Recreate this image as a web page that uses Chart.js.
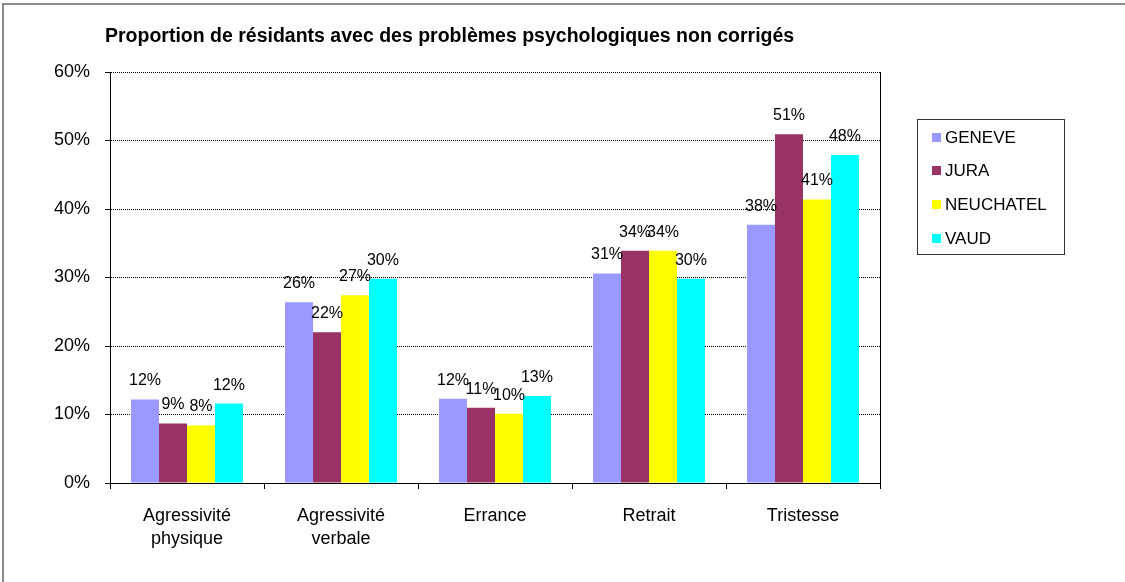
<!DOCTYPE html>
<html>
<head>
<meta charset="utf-8">
<script src="https://cdn.jsdelivr.net/npm/chart.js@4/dist/chart.umd.min.js"></script>
<style>
  html, body { margin: 0; padding: 0; background: #fff; }
  #wrap { position: relative; width: 1125px; height: 582px; }
</style>
</head>
<body>
<div id="wrap"><canvas id="c" width="1125" height="582"></canvas></div>
<script>
const titleText = 'Proportion de résidants avec des problèmes psychologiques non corrigés';
const categories = [['Agressivité', 'physique'], ['Agressivité', 'verbale'], 'Errance', 'Retrait', 'Tristesse'];
const seriesNames = ['GENEVE', 'JURA', 'NEUCHATEL', 'VAUD'];
const seriesColors = ['#9999FF', '#993366', '#FFFF00', '#00FFFF'];
const geneve = [12.2, 26.4, 12.3, 30.6, 37.7];
const jura = [8.7, 22.0, 11.0, 33.9, 50.9];
const neuchatel = [8.4, 27.4, 10.1, 33.9, 41.4];
const vaud = [11.6, 29.8, 12.7, 29.8, 47.9];
const yTicks = [0, 10, 20, 30, 40, 50, 60];

const seriesValues = [geneve, jura, neuchatel, vaud];
const FONT = '"Liberation Sans", Arial, sans-serif';

const extras = {
  id: 'extras',
  beforeDraw(chart) {
    const ctx = chart.ctx;
    ctx.save();
    ctx.fillStyle = '#ffffff';
    ctx.fillRect(0, 0, chart.width, chart.height);
    // outer frame (left and top visible)
    ctx.fillStyle = '#8c8c8c';
    ctx.fillRect(2, 3, chart.width, 2);
    ctx.fillRect(2, 3, 2, chart.height);
    ctx.restore();
  },
  afterDraw(chart) {
    const ctx = chart.ctx;
    const area = chart.chartArea;
    ctx.save();
    // right border of plot area
    ctx.strokeStyle = '#000';
    ctx.lineWidth = 1;
    ctx.beginPath();
    ctx.moveTo(Math.round(area.right) + 0.5, area.top);
    ctx.lineTo(Math.round(area.right) + 0.5, area.bottom);
    ctx.stroke();
    // title
    ctx.fillStyle = '#000';
    ctx.font = 'bold 19.5px ' + FONT;
    ctx.textAlign = 'left';
    ctx.textBaseline = 'alphabetic';
    ctx.fillText(titleText, 105, 42);
    // data labels
    ctx.font = '16px ' + FONT;
    ctx.textAlign = 'center';
    chart.data.datasets.forEach((ds, i) => {
      const meta = chart.getDatasetMeta(i);
      meta.data.forEach((el, j) => {
        ctx.fillText(Math.round(ds.data[j]) + '%', el.x, el.y - 14);
      });
    });
    // legend
    const lx = 917, ly = 119, lw = 147, lh = 135;
    ctx.strokeStyle = '#333';
    ctx.strokeRect(lx + 0.5, ly + 0.5, lw, lh);
    ctx.font = '17px ' + FONT;
    ctx.textAlign = 'left';
    ctx.textBaseline = 'middle';
    chart.data.datasets.forEach((ds, i) => {
      const cy = 137 + i * 33.7;
      ctx.fillStyle = ds.backgroundColor;
      ctx.fillRect(932, Math.round(cy - 4.5), 9, 9);
      ctx.fillStyle = '#000';
      ctx.fillText(ds.label, 945, cy + 1);
    });
    ctx.restore();
  }
};

new Chart(document.getElementById('c'), {
  type: 'bar',
  data: {
    labels: categories,
    datasets: seriesNames.map((name, i) => ({
      label: name,
      data: seriesValues[i],
      backgroundColor: seriesColors[i],
      borderWidth: 0,
      categoryPercentage: 0.727,
      barPercentage: 1.0
    }))
  },
  options: {
    responsive: false,
    animation: false,
    layout: { padding: { left: 50, top: 72, right: 245, bottom: 0 } },
    plugins: {
      legend: { display: false },
      title: { display: false },
      tooltip: { enabled: false }
    },
    scales: {
      x: {
        afterFit(s) { s.height = 99; },
        grid: {
          offset: true,
          drawOnChartArea: false,
          drawTicks: true,
          tickLength: 6,
          tickColor: '#000',
          tickWidth: 1
        },
        border: { display: true, color: '#000', width: 1 },
        ticks: {
          color: '#000',
          padding: 16,
          font: { family: FONT, size: 18, lineHeight: 1.27 }
        }
      },
      y: {
        min: 0,
        max: 60,
        afterFit(s) { s.width = 60; },
        afterBuildTicks(s) { s.ticks = yTicks.map(v => ({ value: v })); },
        grid: {
          color: '#000',
          lineWidth: 1,
          drawTicks: true,
          tickLength: 5,
          tickColor: '#000',
          tickBorderDash: [],
          tickWidth: 1
        },
        border: { display: true, color: '#000', width: 1, dash: [1, 1] },
        ticks: {
          color: '#000',
          padding: 15,
          font: { family: FONT, size: 18 },
          callback: v => v + '%'
        }
      }
    }
  },
  plugins: [extras]
});
</script>
</body>
</html>
